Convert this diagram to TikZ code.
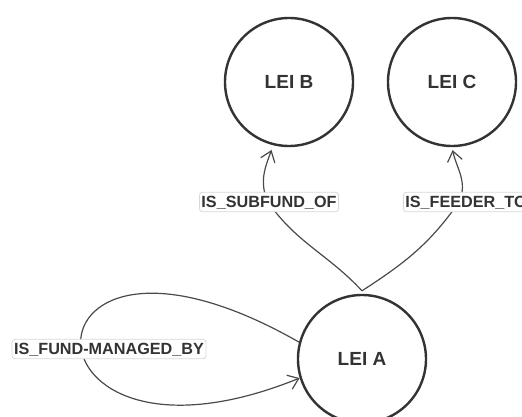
\documentclass[tikz,border=0pt]{standalone}
\usepackage{fontspec}
\setmainfont{Liberation Sans}
\usetikzlibrary{arrows.meta}
\definecolor{circ}{HTML}{333333}
\definecolor{edge}{HTML}{4A4A4A}
\definecolor{lblborder}{HTML}{D8D8D8}
\tikzset{
  entity/.style={circle, draw=circ, line width=2.4pt, minimum size=128pt, inner sep=0pt,
    font=\fontsize{19}{22}\selectfont\bfseries, text=circ},
  rel/.style={draw=edge, line width=1.2pt, -{Straight Barb[length=10pt,width=15pt,line width=1.2pt]}},
  rellabel/.style={fill=white, draw=lblborder, line width=0.8pt, rounded corners=3pt,
    inner xsep=2pt, inner ysep=3pt, text height=12pt, text depth=1.5pt,
    font=\fontsize{16.2}{18}\selectfont\bfseries, text=circ}
}
\begin{document}
\begin{tikzpicture}[x=1pt,y=1pt]
\useasboundingbox (0,0) rectangle (522,416);
\clip (0,0) rectangle (522,416);
\fill[white] (0,0) rectangle (522,416);
\node[entity] (A) at (362,57) {LEI A};
\node[entity] (B) at (289,334) {LEI B};
\node[entity] (C) at (452,334) {LEI C};
\coordinate (sb) at (268,214);
\coordinate (fd) at (459,214);
\coordinate (Astart) at ([yshift=3pt]A.north);
% A -> B
\draw[rel, shorten >=5pt] (Astart) to[out=133,in=-55] (sb) to[out=115,in=-110] (B.256);
% A -> C
\draw[rel, shorten >=3pt] (Astart) to[out=33,in=-125] (fd) to[out=65,in=-78] (C.south);
% self loop
\draw[rel] (A.165) .. controls (8,240) and (8,-80) .. (A.197);
\node[rellabel] (lsub) at (269,214) {IS\_SUBFUND\_OF};
\node[rellabel] (lfeed) at (466,214) {IS\_FEEDER\_TO};
\node[rellabel] (lfund) at (109,67) {IS\_FUND-MANAGED\_BY};
\end{tikzpicture}
\end{document}
